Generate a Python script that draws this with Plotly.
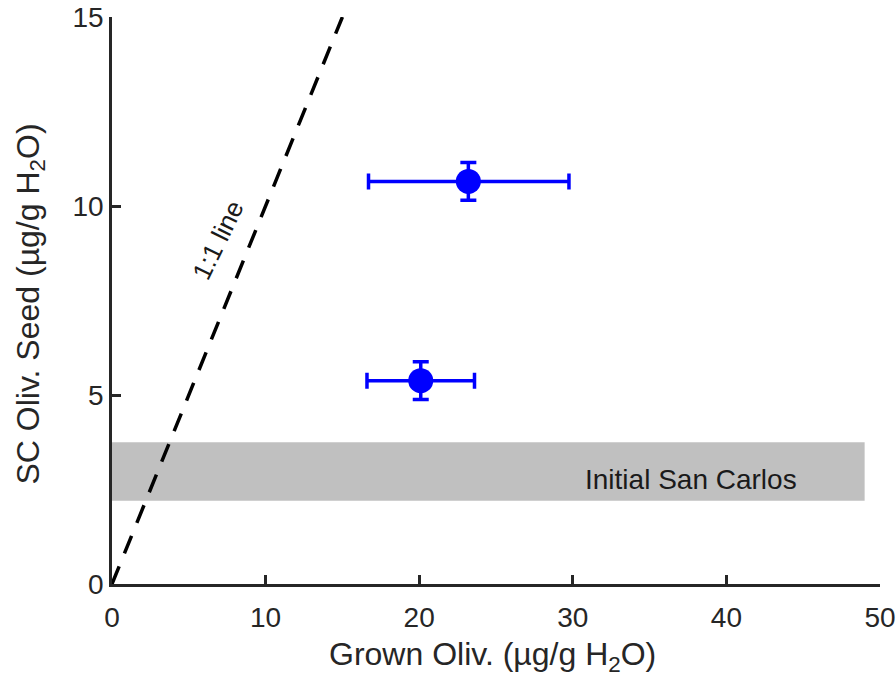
import plotly.graph_objects as go

# Data
grown_x = [23.2, 20.1]
seed_y = [10.65, 5.38]
x_err_plus = [6.55, 3.5]
x_err_minus = [6.5, 3.5]
y_err = [0.5, 0.5]

line_x = [0, 15]
line_y = [0, 15]

band_x = [0, 49]
band_y = [2.2, 3.75]
band_label = "Initial San Carlos"
line_label = "1:1 line"
x_title = "Grown Oliv. (µg/g H<sub>2</sub>O)"
y_title = "SC Oliv. Seed (µg/g H<sub>2</sub>O)"

x_ticks = [0, 10, 20, 30, 40, 50]
y_ticks = [0, 5, 10, 15]

font_family = "Liberation Sans, Arial, sans-serif"
txt_color = "#262626"

fig = go.Figure()

fig.add_shape(type="rect", xref="x", yref="y",
              x0=band_x[0], x1=band_x[1], y0=band_y[0], y1=band_y[1],
              fillcolor="#c0c0c0", line=dict(width=0), layer="below")

fig.add_trace(go.Scatter(x=line_x, y=line_y, mode="lines",
                         line=dict(color="black", width=3.5, dash="19px,14px"),
                         hoverinfo="skip", showlegend=False, cliponaxis=False))

fig.add_trace(go.Scatter(
    x=grown_x, y=seed_y, mode="markers",
    marker=dict(color="#0000ff", size=25, line=dict(width=0)),
    error_x=dict(type="data", array=x_err_plus, arrayminus=x_err_minus,
                 symmetric=False, color="#0000ff", thickness=3.5, width=8),
    error_y=dict(type="data", array=y_err, color="#0000ff", thickness=3.5, width=8),
    showlegend=False, cliponaxis=False))

fig.add_annotation(x=37.7, y=2.76, xref="x", yref="y", text=band_label,
                   showarrow=False, font=dict(size=28, color="#1a1a1a", family=font_family))
fig.add_annotation(x=6.9, y=9.1, xref="x", yref="y", text=line_label,
                   showarrow=False, textangle=-64,
                   font=dict(size=26, color="#1a1a1a", family=font_family))

# axis titles
fig.add_annotation(x=0.5, y=0, xref="paper", yref="paper", text=x_title,
                   showarrow=False, xanchor="center", yanchor="middle",
                   xshift=-4, yshift=-72,
                   font=dict(size=32, color=txt_color, family=font_family))
fig.add_annotation(x=0, y=0.5, xref="paper", yref="paper", text=y_title,
                   showarrow=False, xanchor="center", yanchor="middle",
                   textangle=-90, xshift=-82, yshift=-4,
                   font=dict(size=32, color=txt_color, family=font_family))

axis_common = dict(showline=True, linecolor="#262626", linewidth=2.5,
                   ticks="inside", ticklen=9, tickwidth=2.5, tickcolor="#262626",
                   showgrid=False, zeroline=False, mirror=False, automargin=False,
                   ticklabeloverflow="allow",
                   tickfont=dict(size=28, color=txt_color, family=font_family))

fig.update_layout(
    width=896, height=683,
    margin=dict(l=112, r=16, t=17, b=99),
    plot_bgcolor="white", paper_bgcolor="white",
    font=dict(family=font_family, color=txt_color),
    xaxis=dict(range=[0, 50], tickvals=x_ticks, ticklabelstandoff=7, **axis_common),
    yaxis=dict(range=[0, 15], tickvals=y_ticks, **axis_common),
)

fig.write_html("out.html", config={"displayModeBar": False},
               post_script="document.body.style.margin='0';document.body.style.overflow='hidden';")
